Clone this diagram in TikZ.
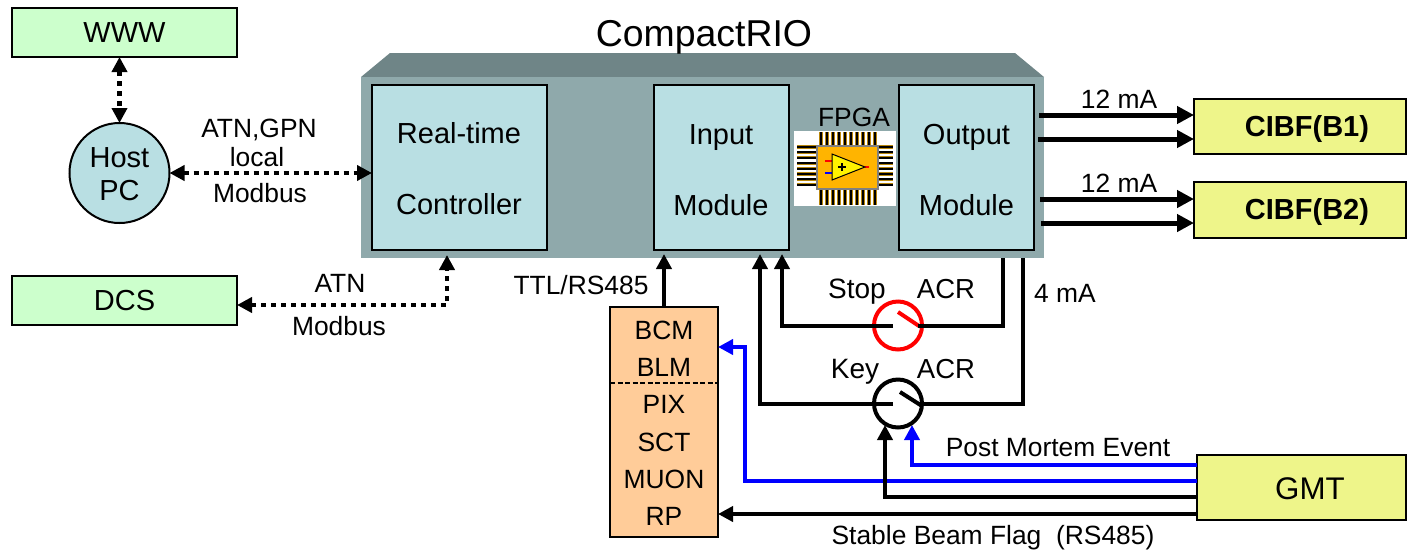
\documentclass[tikz,border=0pt]{standalone}
\usepackage{fontspec}
\setmainfont{Liberation Sans}
\usepackage{tikz}
\usetikzlibrary{arrows.meta,calc}
\definecolor{boxgreen}{HTML}{CCFFCC}
\definecolor{boxblue}{HTML}{B9DFE3}
\definecolor{boxyellow}{HTML}{EEF58A}
\definecolor{boxorange}{HTML}{FFCC99}
\definecolor{crioface}{HTML}{8FA9AB}
\definecolor{criotop}{HTML}{6F8587}
\definecolor{chipgold}{HTML}{FFB400}
\definecolor{pingold}{HTML}{B8860B}
\tikzset{
    lab/.style={font=\fontsize{26.4}{30}\selectfont, inner sep=0pt},
    boxlab/.style={font=\fontsize{29}{32}\selectfont, inner sep=0pt},
    blk/.style={draw=black, line width=2pt, inner sep=0pt, outer sep=0pt, anchor=north west},
    wire/.style={line width=4pt, -{Triangle[length=15pt,width=15pt]}},
    plainwire/.style={line width=4pt},
    fatwire/.style={line width=5pt, -{Triangle[length=17pt,width=17pt]}},
    pmwire/.style={wire, blue},
    netwire/.style={line width=4.5pt, dash pattern=on 5pt off 5pt, {Triangle[length=15pt,width=15pt]}-{Triangle[length=15pt,width=15pt]}},
    swtch/.style={circle, line width=4pt, minimum size=48pt, inner sep=0pt, outer sep=0pt},
    pin/.style={line width=3.2pt, pingold},
    pincore/.style={line width=2pt, black}
}
\begin{document}
\begin{tikzpicture}[x=1pt,y=-1pt]
    \useasboundingbox (0,0) rectangle (1410,550);

    %boxes on the left
    \node[blk, fill=boxgreen, minimum width=225pt, minimum height=49pt] (www) at (12,8) {};
    \node[boxlab] at (124.5,33) {WWW};
    \node[blk, fill=boxgreen, minimum width=225pt, minimum height=49pt] (dcs) at (12,276) {};
    \node[boxlab] at (dcs.center) {DCS};
    \node[circle, draw, line width=2pt, fill=boxblue, minimum size=100pt, inner sep=0pt, outer sep=0pt] (host) at (119.5,173) {};
    \node[boxlab] at (119.5,158) {Host};
    \node[boxlab] at (119.5,191) {PC};

    %chassis
    \fill[criotop] (361,77) -- (390,53) -- (1015,53) -- (1044,77) -- cycle;
    \fill[crioface] (361,77) rectangle (1044,258);
    \node[lab, font=\fontsize{37.4}{40}\selectfont] (crio) at (704,37) {CompactRIO};

    %modules
    \node[blk, fill=boxblue, minimum width=175pt, minimum height=165pt] (rt) at (372,85) {};
    \node[boxlab] at (459,133) {Real-time};
    \node[boxlab] at (459,204) {Controller};
    \node[blk, fill=boxblue, minimum width=135pt, minimum height=165pt] (input) at (654,85) {};
    \node[boxlab] at (721,137.5) {Input};
    \node[boxlab] at (721,205) {Module};
    \node[blk, fill=boxblue, minimum width=135pt, minimum height=165pt] (output) at (899,85) {};
    \node[boxlab] at (966.5,137.5) {Output};
    \node[boxlab] at (966.5,205) {Module};

    %fpga
    \fill[white] (794,131) rectangle (896,206);
    \foreach \x in {0,1,...,9}{
        \draw[pin] ({821+\x*6},132) -- ++(0,73);
        \draw[pincore] ({821+\x*6},132) -- ++(0,73);
    }
    \foreach \x in {0,1,...,7}{
        \draw[pin] (797,{147+\x*5.4}) -- ++(96,0);
        \draw[pincore] (797,{147+\x*5.4}) -- ++(96,0);
    }
    \fill[gray] (816,145) rectangle (879,190);
    \fill[chipgold] (818,147) rectangle (877,188);
    \draw[red, line width=1.5pt] (825,161) -- (832,161);
    \draw[blue, line width=1.5pt] (825,173) -- (832,173);
    \draw[red, line width=1.5pt] (865,167) -- (869,167);
    \draw[black, fill=yellow, line width=1pt] (832,154) -- (865,167) -- (832,180) -- cycle;
    \draw[black, line width=2pt] (838,167) -- (846,167) (842,163) -- (842,171);
    \node[lab, font=\fontsize{26.4}{28}\selectfont] (fpga) at (854,117) {FPGA};

    %right side
    \node[blk, fill=boxyellow, minimum width=212pt, minimum height=55pt] (cibfa) at (1194,99) {};
    \node[boxlab, font=\fontsize{29}{32}\selectfont\bfseries] at (1307,129) {CIBF(B1)};
    \node[blk, fill=boxyellow, minimum width=212pt, minimum height=56pt] (cibfb) at (1194,182) {};
    \node[boxlab, font=\fontsize{29}{32}\selectfont\bfseries] at (1307,212) {CIBF(B2)};
    \node[blk, fill=boxyellow, minimum width=209pt, minimum height=65pt] (gmt) at (1197,455) {};
    \node[lab, font=\fontsize{31.3}{34}\selectfont] at (1310,489) {GMT};

    %detectors
    \node[blk, fill=boxorange, minimum width=108pt, minimum height=230pt] (det) at (610,307) {};
    \foreach \n/\y in {BCM/330,BLM/367,PIX/404,SCT/442,MUON/479,RP/516}{
        \node[lab] (\n) at (664,\y) {\n};
    }
    \draw[black, line width=1.5pt, dash pattern=on 5pt off 2.5pt] (det.west |- 0,383) -- (det.east |- 0,383);

    %switches
    \node[swtch, draw=red] (stop) at (898,325.5) {};
    \node[swtch, draw=black] (key) at (898,403.5) {};
    \draw[red, line width=4pt] (898,312) -- (919,326);
    \draw[black, line width=4pt] (900,392) -- (922,406);
    \node[lab, font=\fontsize{28}{30}\selectfont] (stoplab) at (857,291.5) {Stop};
    \node[lab, font=\fontsize{27.5}{30}\selectfont] (acra) at (946,289) {ACR};
    \node[lab, font=\fontsize{28}{30}\selectfont] (keylab) at (855,372) {Key};
    \node[lab, font=\fontsize{27.5}{30}\selectfont] (acrb) at (946,369) {ACR};

    %network links
    \draw[netwire] (www.south -| host) -- (host.north);
    \draw[netwire] (host.east) -- (rt.west |- host.east);
    \node[lab] (atngpn) at (259,130) {ATN,GPN};
    \node[lab] (local) at (257,157) {local};
    \node[lab] (modbusa) at (260,193) {Modbus};
    \coordinate (dcsin) at (447,255);
    \draw[netwire] (dcs.east |- 0,305) -| (dcsin);
    \node[lab] (atn) at (340,283) {ATN};
    \node[lab] (modbusb) at (339,326) {Modbus};

    %signals
    \coordinate (inttl) at (664,254);
    \draw[wire] (det.north -| inttl) -- (inttl);
    \node[lab] (ttl) at (581,285) {TTL/RS485};
    \coordinate (stopl) at (893,326);
    \coordinate (stopr) at (918,326);
    \coordinate (keyl) at (893,404);
    \coordinate (keyr) at (921,404);
    \coordinate (instop) at (782,254);
    \coordinate (inkey) at (760,254);
    \draw[plainwire] (1003,258) |- (stopr);
    \draw[wire] (stopl) -| (instop);
    \draw[plainwire] (1023,258) |- (keyr);
    \draw[wire] (keyl) -| (inkey);
    \node[lab] (fourma) at (1065,293) {4 mA};

    %currents
    \draw[fatwire] (1039,115) -- (cibfa.west |- 0,115);
    \draw[fatwire] (1038,139) -- (cibfa.west |- 0,139);
    \draw[fatwire] (1040,199) -- (cibfb.west |- 0,199);
    \draw[fatwire] (1041,223) -- (cibfb.west |- 0,223);
    \node[lab] (ma) at (1119,99) {12 mA};
    \node[lab] (mb) at (1119,183) {12 mA};

    %gmt
    \coordinate (keypm) at (912,425);
    \coordinate (keygmt) at (885,425);
    \draw[pmwire] (gmt.west |- 0,464.5) -| (keypm);
    \node[lab] (post) at (1058,448) {Post Mortem Event};
    \draw[pmwire] (gmt.west |- 0,481) -| (745,347) -- (det.east |- 0,347);
    \draw[wire] (gmt.west |- 0,497) -| (keygmt);
    \draw[wire] (gmt.west |- 0,514) -- (det.east |- 0,514);
    \node[lab] (flag) at (993,537.5) {Stable Beam Flag\ \ (RS485)};
\end{tikzpicture}
\end{document}
